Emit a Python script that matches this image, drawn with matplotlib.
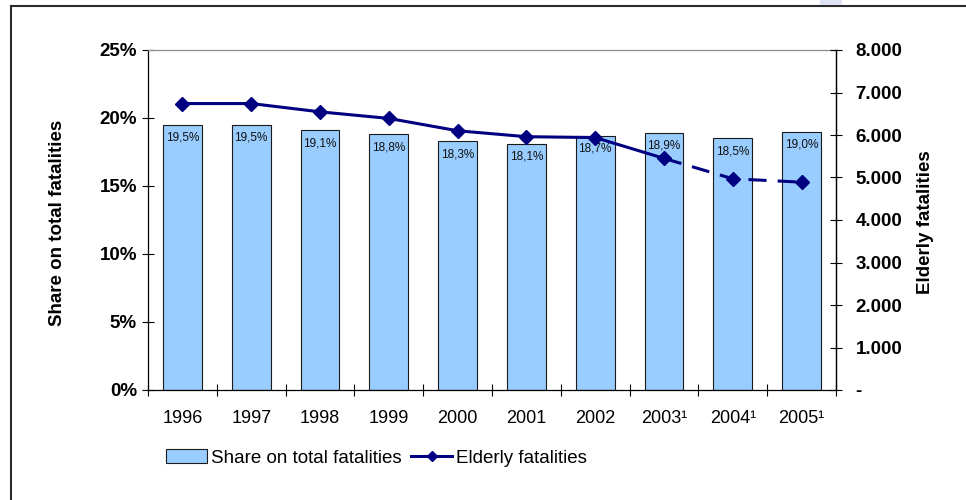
import matplotlib
matplotlib.use("Agg")
import matplotlib.pyplot as plt
from matplotlib.lines import Line2D
from matplotlib.patches import Patch, Rectangle
from matplotlib.ticker import FixedLocator, FuncFormatter

plt.rcParams['font.family'] = ['Liberation Sans', 'DejaVu Sans']
plt.rcParams['lines.scale_dashes'] = False

# Data
years = ["1996", "1997", "1998", "1999", "2000", "2001", "2002", "2003¹", "2004¹", "2005¹"]
share_pct = [19.5, 19.5, 19.1, 18.8, 18.3, 18.1, 18.7, 18.9, 18.5, 19.0]
elderly = [6740, 6740, 6545, 6390, 6100, 5960, 5940, 5450, 4970, 4890]
share_ticks = [0, 5, 10, 15, 20, 25]
elderly_ticks = [0, 1000, 2000, 3000, 4000, 5000, 6000, 7000, 8000]
solid_until = 7  # index of the last point joined by a solid line

bar_color = "#99CCFF"
line_color = "#000080"

fig = plt.figure(figsize=(9.66, 5.0), dpi=100)
fig.patch.set_facecolor("white")

# Outer frame of the chart object
fig.patches.append(Rectangle((11 / 966, -0.02), 0.99 - 11 / 966 + 0.02, 1 - 5.5 / 500 + 0.02,
                             transform=fig.transFigure, fill=False,
                             edgecolor="#2b2b2b", linewidth=1.5, zorder=0))
fig.patches.append(Rectangle((820 / 966, 1 - 5 / 500), 22 / 966, 5 / 500,
                             transform=fig.transFigure, facecolor="#dde3f3",
                             edgecolor="none", zorder=0))

ax = fig.add_axes([148 / 966, 0.22, 688 / 966, 0.68])
x = list(range(len(years)))

bars = ax.bar(x, share_pct, width=0.565, color=bar_color, edgecolor="#1a1a1a",
              linewidth=0.8, zorder=2)
for xi, v in zip(x, share_pct):
    ax.annotate(f"{v:.1f}%".replace(".", ","), xy=(xi, v), xytext=(0, -5),
                textcoords="offset points", ha="center", va="top",
                fontsize=8.5, color="#111111", zorder=3)

ax.set_xlim(-0.5, len(years) - 0.5)
ax.set_ylim(0, 25)
ax.yaxis.set_major_locator(FixedLocator(share_ticks))
ax.yaxis.set_major_formatter(FuncFormatter(lambda v, p: f"{v:.0f}%"))
ax.tick_params(axis="y", direction="inout", length=8, width=0.8, pad=4,
               labelsize=13.5)
for lbl in ax.get_yticklabels():
    lbl.set_fontweight("bold")

# Category labels at centres, tick marks at the boundaries
ax.set_xticks(x)
ax.set_xticklabels(years)
ax.tick_params(axis="x", which="major", length=0, pad=14.5, labelsize=13)
ax.set_xticks([i - 0.5 for i in range(len(years) + 1)], minor=True)
ax.tick_params(axis="x", which="minor", direction="inout", length=8, width=0.8)

for side in ("left", "bottom", "right"):
    ax.spines[side].set_color("black")
    ax.spines[side].set_linewidth(0.9)
ax.spines["top"].set_color("#8c8c8c")
ax.spines["top"].set_linewidth(0.9)

ax.set_ylabel("Share on total fatalities", fontsize=13.5, fontweight="bold",
              va="center")
ax.yaxis.set_label_coords((58 - 148) / 688, (390 - 223) / 340)

# Secondary axis: number of elderly fatalities
ax2 = ax.twinx()
ax2.set_ylim(0, 8000)
ax2.yaxis.set_major_locator(FixedLocator(elderly_ticks))
ax2.yaxis.set_major_formatter(
    FuncFormatter(lambda v, p: "-" if v == 0 else f"{v:,.0f}".replace(",", ".")))
ax2.tick_params(axis="y", direction="inout", length=8, width=0.8, pad=10,
                labelsize=13.5)
for lbl in ax2.get_yticklabels():
    lbl.set_fontweight("bold")
for side in ("left", "bottom", "top"):
    ax2.spines[side].set_visible(False)
ax2.spines["right"].set_color("black")
ax2.spines["right"].set_linewidth(0.9)
ax2.set_ylabel("Elderly fatalities", fontsize=13.5, fontweight="bold",
               va="center")
ax2.yaxis.set_label_coords((925 - 148) / 688, (390 - 222) / 340)

ax2.plot(x[:solid_until + 1], elderly[:solid_until + 1], color=line_color,
         linewidth=2.2, solid_capstyle="butt", zorder=4)
ax2.plot(x[solid_until:], elderly[solid_until:], color=line_color,
         linewidth=2.2, dashes=(13, 8), dash_capstyle="butt", zorder=4)
ax2.plot(x, elderly, linestyle="none", marker="D", markersize=7.2,
         color=line_color, zorder=5)

handles = [Patch(facecolor=bar_color, edgecolor="#1a1a1a", linewidth=0.8),
           Line2D([0], [0], color=line_color, linewidth=2.2, marker="D",
                  markersize=5)]
fig.legend(handles, ["Share on total fatalities", "Elderly fatalities"],
           loc="center left", bbox_to_anchor=(166 / 966, 1 - 458 / 500),
           ncol=2, frameon=False, fontsize=13.5, handlelength=2.2,
           handleheight=0.7, handletextpad=0.2, columnspacing=0.5,
           borderpad=0, borderaxespad=0)

fig.savefig("out.png", dpi=100, facecolor="white")
